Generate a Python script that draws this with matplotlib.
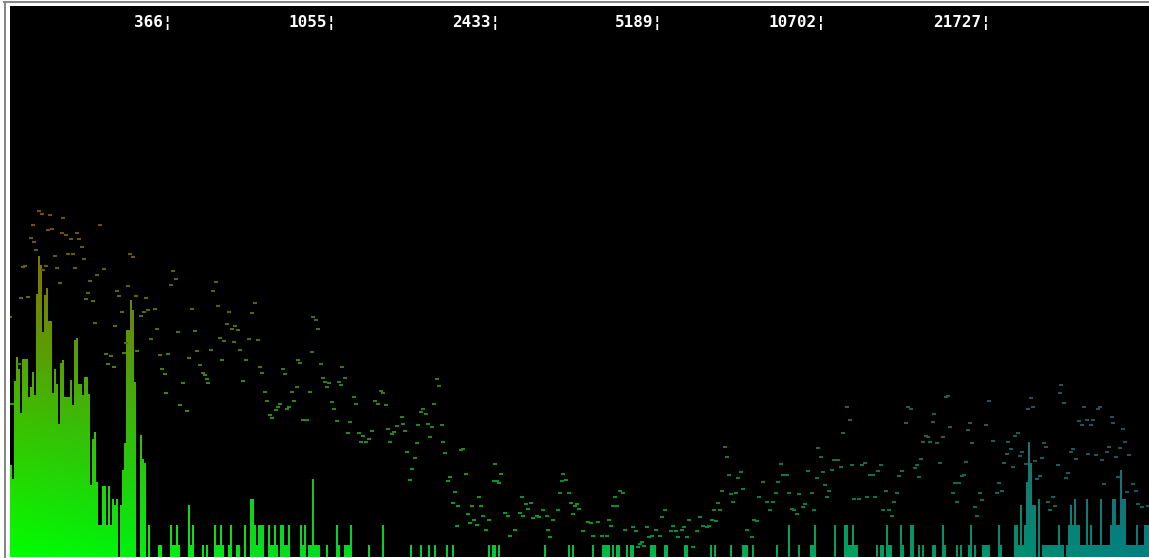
import numpy as np
import matplotlib
matplotlib.use("Agg")
import matplotlib.pyplot as plt
from matplotlib.path import Path
from matplotlib.patches import PathPatch
from matplotlib.lines import Line2D

# spectrum level per 2 px band (570 bands across the display)
levels_bass = [
    92, 78, 176, 200, 188, 144, 198, 198, 198, 160,
    170, 185, 162, 263, 301, 292, 225, 262, 269, 236,
    236, 164, 188, 173, 133, 194, 197, 160, 160, 160,
    177, 152, 217, 219, 173, 173, 162, 180, 180, 163,
    72, 118, 125, 75, 32, 32, 71, 71, 32, 71,
    32, 58, 52, 58, 0, 52, 87, 114, 227, 227,
    257, 247, 175, 0, 0, 122, 98, 94, 0, 32,
]

# mid bands are mostly silent: (band, level)
levels_mid = [
    (74, 12), (75, 12), (80, 32), (81, 12), (82, 12), (83, 32), (84, 12),
    (89, 52), (90, 12), (91, 32), (96, 12), (98, 12), (102, 32), (103, 12),
    (104, 12), (105, 32), (106, 12), (109, 12), (110, 32), (113, 12), (114, 12),
    (117, 32), (120, 58), (121, 58), (122, 32), (123, 12), (124, 32), (125, 32),
    (126, 32), (129, 32), (130, 12), (131, 12), (132, 32), (133, 12), (135, 32),
    (136, 32), (137, 12), (138, 12), (139, 32), (145, 32), (146, 12), (147, 32),
    (149, 12), (150, 12), (151, 78), (152, 12), (153, 12), (154, 12), (158, 12),
    (163, 32), (164, 12), (167, 12), (168, 12), (169, 12), (170, 32), (179, 12),
    (186, 32), (200, 12), (205, 12), (209, 12), (212, 12), (218, 12), (221, 12),
    (239, 12), (241, 12), (242, 12), (244, 12), (267, 12), (279, 12), (281, 12),
    (291, 12), (296, 12), (297, 12), (298, 12), (299, 12), (301, 12), (303, 12),
    (304, 12), (308, 12), (310, 12), (311, 12), (320, 12), (321, 12), (322, 12),
    (327, 12), (328, 12), (337, 12), (338, 12), (350, 12), (352, 12), (360, 12),
    (366, 12), (367, 12), (368, 12), (371, 12), (383, 12), (389, 32), (394, 12),
    (400, 12), (401, 12), (402, 32), (412, 32), (417, 32), (418, 32), (419, 12),
    (420, 12), (421, 32), (422, 12), (423, 12), (433, 12), (435, 12), (436, 12),
    (438, 32), (439, 12), (440, 12), (445, 32), (446, 12), (450, 32), (451, 32),
    (454, 12), (456, 12), (461, 12), (462, 12), (466, 32), (467, 12), (473, 12),
    (475, 12), (479, 12), (480, 32), (482, 12), (486, 12), (487, 12), (488, 12),
    (489, 12), (494, 32), (495, 12),
]

levels_treble = [
    0, 0, 32, 32, 12, 52, 12, 32, 75, 115,
    94, 52, 52, 0, 58, 0, 12, 12, 12, 12,
    12, 12, 12, 12, 32, 12, 12, 0, 12, 32,
    52, 32, 58, 32, 32, 12, 12, 12, 58, 12,
    32, 12, 12, 12, 12, 58, 12, 12, 12, 12,
    32, 58, 58, 32, 32, 87, 58, 58, 12, 12,
    12, 12, 12, 32, 12, 12, 12, 32, 32, 32,
]

# falling peak markers: (screen x, level)
peaks = [
    (10, 240), (12, 153), (19, 193), (21, 259), (23, 290), (25, 291), (28, 260),
    (31, 319), (33, 332), (34, 315), (36, 307), (39, 346), (42, 343), (43, 287),
    (46, 291), (48, 327), (50, 342), (52, 328), (55, 301), (57, 289), (60, 274),
    (62, 324), (63, 339), (66, 322), (68, 303), (71, 318), (73, 303), (75, 289),
    (77, 324), (79, 318), (82, 310), (84, 298), (86, 258), (88, 264), (90, 276),
    (93, 256), (95, 234), (97, 282), (100, 332), (104, 288), (106, 203), (108, 193),
    (111, 201), (114, 190), (115, 231), (117, 266), (119, 261), (122, 245),
    (124, 204), (126, 214), (128, 271), (130, 303), (133, 300), (136, 261),
    (137, 206), (141, 241), (144, 245), (146, 259), (148, 247), (151, 218),
    (155, 248), (157, 228),
    (160, 202), (162, 188), (165, 183), (166, 164), (168, 203), (171, 272),
    (173, 286), (176, 278), (178, 225), (180, 152), (183, 174), (187, 146),
    (189, 199), (192, 248), (195, 226), (197, 206),
    (200, 192), (203, 184), (205, 182), (207, 178), (208, 174), (211, 207),
    (213, 266), (216, 275), (218, 251), (220, 219), (222, 197), (224, 216),
    (227, 233), (229, 245), (232, 228), (234, 215), (235, 231), (238, 227),
    (240, 207), (243, 176), (246, 197), (249, 218), (252, 244), (255, 254),
    (258, 217), (260, 190), (262, 184), (265, 165), (267, 156), (270, 142),
    (272, 139), (276, 147), (278, 150), (280, 153), (283, 188), (285, 183),
    (287, 148), (289, 150), (292, 165), (294, 156), (297, 170), (298, 197),
    (300, 194), (303, 137), (307, 137), (310, 165), (312, 205), (313, 240),
    (316, 237), (318, 228), (321, 193), (323, 179), (325, 175), (327, 170),
    (329, 174), (332, 155), (334, 148), (337, 136), (339, 175), (341, 172),
    (342, 190), (345, 179), (348, 124), (350, 135), (354, 160), (356, 153),
    (359, 124), (361, 115), (363, 121), (366, 115), (369, 118), (372, 126),
    (375, 156), (378, 153), (381, 166), (383, 164), (386, 152), (388, 128),
    (390, 115), (392, 123), (394, 125), (397, 131),
    (402, 140), (403, 133), (405, 126), (407, 105), (410, 77), (412, 88),
    (415, 99), (417, 114), (418, 132), (421, 145), (423, 148), (426, 143),
    (428, 133), (430, 120), (432, 130), (434, 153), (437, 178), (439, 171),
    (442, 132), (443, 115), (445, 104), (448, 76), (450, 80), (453, 54),
    (455, 65), (457, 31), (458, 51), (461, 107), (463, 108), (466, 83),
    (468, 43), (470, 34), (472, 51), (474, 37), (477, 32), (479, 60), (481, 51),
    (483, 41), (486, 27), (489, 37), (494, 76), (495, 93), (497, 76), (499, 74),
    (501, 83), (505, 44), (508, 41), (510, 21), (515, 27), (520, 44), (522, 60),
    (523, 41), (526, 53), (528, 48), (531, 54), (533, 39), (537, 41), (539, 40),
    (543, 47), (547, 41), (548, 27), (550, 20), (553, 37), (558, 47), (560, 64),
    (562, 76), (563, 83), (566, 77), (569, 64), (571, 54), (573, 43), (575, 51),
    (577, 53), (579, 48), (583, 26), (588, 35), (591, 34), (593, 21), (598, 35),
    (602, 21), (607, 21), (609, 37), (611, 31), (613, 51), (615, 60), (617, 51),
    (620, 66), (623, 64), (625, 27), (633, 30), (636, 26), (638, 10), (640, 13),
    (642, 15), (644, 11), (647, 30), (649, 20), (652, 21), (656, 27), (660, 21),
    (662, 40), (665, 47), (671, 26), (673, 31), (676, 26), (678, 20), (682, 27),
    (684, 30), (687, 20), (689, 37), (693, 10), (697, 26),
    (700, 40), (703, 31), (707, 30), (709, 31), (712, 37), (714, 47), (716, 36),
    (718, 54), (720, 47), (722, 66), (725, 110), (727, 100), (729, 82), (731, 63),
    (733, 55), (736, 64), (738, 79), (741, 85), (743, 68), (747, 27), (752, 20),
    (754, 37), (757, 36), (759, 60), (763, 75), (767, 55), (770, 47), (773, 55),
    (776, 64), (778, 75), (781, 93), (783, 82), (787, 82), (789, 64), (792, 48),
    (794, 47), (797, 43), (799, 63),
    (803, 50), (805, 53), (808, 86), (812, 64), (814, 47), (817, 79), (818, 109),
    (821, 100), (823, 85), (825, 72), (827, 60), (829, 66), (832, 87), (834, 97),
    (838, 97), (841, 90), (843, 124), (847, 150), (850, 137), (852, 92), (854, 58),
    (859, 58), (862, 92), (865, 94), (867, 60), (870, 82), (873, 82), (875, 60),
    (878, 86), (881, 92), (883, 47), (886, 66), (889, 47), (892, 41), (894, 55),
    (897, 64), (899, 81),
    (902, 86), (906, 134), (908, 150), (911, 148), (915, 89), (917, 92), (919, 80),
    (921, 98), (923, 115), (926, 121), (928, 120), (930, 115), (933, 135),
    (934, 143), (937, 114), (940, 94), (943, 120), (946, 160), (948, 161),
    (950, 130), (953, 64), (955, 74), (957, 55), (959, 74), (962, 81), (964, 82),
    (966, 95), (968, 127), (970, 134), (972, 114), (975, 50), (977, 41), (980, 64),
    (982, 57), (986, 132), (989, 156), (993, 116), (997, 64), (999, 74),
    (1002, 66), (1004, 94), (1007, 103), (1008, 115), (1011, 108), (1013, 90),
    (1015, 121), (1018, 124), (1020, 101), (1022, 105), (1026, 93), (1028, 148),
    (1031, 159), (1033, 150), (1035, 96), (1037, 78), (1040, 81), (1042, 99),
    (1044, 114), (1046, 110), (1048, 55), (1050, 47), (1053, 60), (1055, 51),
    (1058, 92), (1060, 164), (1061, 172), (1064, 154), (1066, 79), (1068, 84),
    (1071, 105), (1073, 108), (1076, 98), (1079, 136), (1082, 132), (1084, 150),
    (1087, 137), (1088, 103), (1091, 132), (1093, 137), (1096, 102), (1098, 148),
    (1100, 150), (1102, 97), (1104, 73), (1107, 105), (1109, 110), (1112, 140),
    (1113, 134), (1116, 100), (1118, 80), (1120, 109), (1123, 128), (1125, 115),
    (1127, 65), (1129, 102), (1133, 73), (1136, 66), (1138, 53), (1142, 50),
    (1148, 51),
]

# frequency readout along the top, placed at its screen column
tick_hz = [366, 1055, 2433, 5189, 10702, 21727]
tick_x = [169, 333, 497, 660, 823, 987]

# assemble the full band table
NBANDS = 570
levels = np.zeros(NBANDS)
levels[:len(levels_bass)] = levels_bass
for band, lev in levels_mid:
    levels[band] = lev
levels[NBANDS - len(levels_treble):] = levels_treble

X0, X1 = 10, 1149
YMAX = 551
BANDW = 2

fig = plt.figure(figsize=(11.49, 5.58), dpi=100, facecolor="white")
ax = fig.add_axes([X0 / 1149, 1 / 558, (X1 - X0) / 1149, YMAX / 558])
ax.set_facecolor("black")
ax.set_xlim(X0, X1)
ax.set_ylim(0, YMAX)
ax.set_axis_off()
ax.add_patch(plt.Rectangle((X0, 0), X1 - X0, YMAX, color="black", zorder=0))


def colour(s, t):
    # horizontal blend green -> teal, vertical blend towards red
    s = np.asarray(s)[..., None]
    t = np.asarray(t)[..., None]
    base = np.array([0, 255, 0]) * (1 - s) + np.array([0, 128, 128]) * s
    top = np.array([245, 0, 0]) * (1 - s) + np.array([170, 0, 100]) * s
    return (base * (1 - t) + top * t) / 255.0


S, T = np.meshgrid(np.linspace(0, 1, X1 - X0), np.linspace(0, 1, YMAX))
grad = colour(S, T)
im = ax.imshow(grad, origin="lower", extent=(X0, X1, 0, YMAX),
               aspect="auto", interpolation="bilinear", zorder=2)

# step outline of the bars used as clip region for the gradient
edges = X0 + BANDW * np.arange(NBANDS + 1)
verts = [(edges[0], 0)]
for i, h in enumerate(levels):
    verts.append((edges[i], h))
    verts.append((edges[i + 1], h))
verts.append((edges[-1], 0))
verts.append((edges[0], 0))
codes = [Path.MOVETO] + [Path.LINETO] * (len(verts) - 2) + [Path.CLOSEPOLY]
bars = PathPatch(Path(verts, codes), facecolor="none", edgecolor="none",
                 transform=ax.transData)
ax.add_patch(bars)
im.set_clip_path(bars)

# peak markers
px = np.array([p[0] for p in peaks], dtype=float)
ph = np.array([p[1] for p in peaks], dtype=float)
pc = colour((px - X0) / (X1 - X0), ph / YMAX) * 0.8
ax.hlines(ph, px - 2, px + 2, colors=pc, lw=1.5, zorder=3)

for hz, x in zip(tick_hz, tick_x):
    ax.text(x + 3.5, YMAX - 21, f"{hz}\u00a6", ha="right", va="baseline",
            color="white", fontsize=11.5, family="DejaVu Sans Mono",
            fontweight="bold", zorder=4)

# grey window frame on the left and top
fig.add_artist(Line2D([4.5 / 1149, 4.5 / 1149], [0, 556 / 558],
                      transform=fig.transFigure, color="#858585", lw=1.4))
fig.add_artist(Line2D([4 / 1149, 1], [556.5 / 558, 556.5 / 558],
                      transform=fig.transFigure, color="#858585", lw=1.4))

fig.savefig("out.png", dpi=100, facecolor="white")
